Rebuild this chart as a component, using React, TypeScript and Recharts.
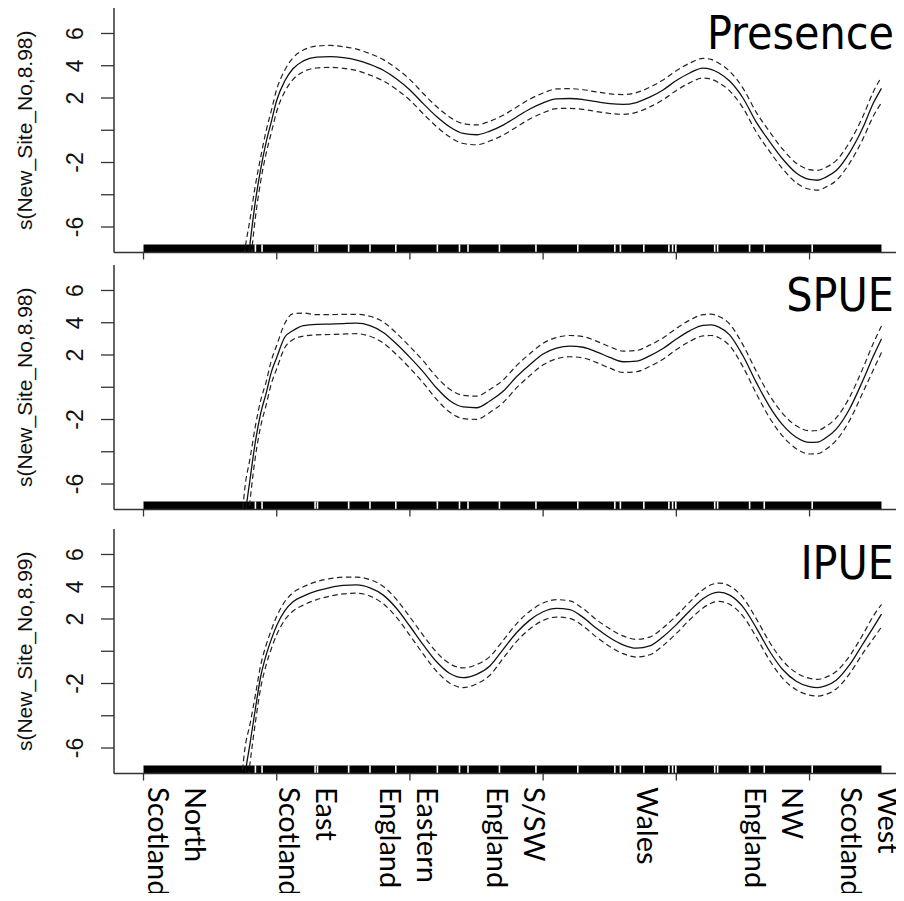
import React from 'react';
import { LineChart, Line, XAxis, YAxis, ReferenceArea, ReferenceLine, Customized } from 'recharts';

// Site numbers at which the smooths were read
const sites = [36, 38, 40, 42, 44, 46, 48, 50, 53, 56, 60, 65, 70, 75, 80, 85, 90, 95, 100, 105, 110, 115, 120, 125, 130, 135, 140, 145, 150, 155, 160, 165, 170, 175, 180, 185, 190, 195, 200, 205, 210, 213, 216, 220, 225, 230, 235, 240, 245, 250, 253, 256, 260, 265, 270, 274, 277];

// Presence
const presenceFit = [-13, -9.8, -7.0, -4.4, -2.4, -0.75, 0.55, 1.86, 3.05, 3.8, 4.3, 4.53, 4.56, 4.5, 4.35, 4.08, 3.72, 3.18, 2.5, 1.65, 0.85, 0.2, -0.2, -0.28, -0.05, 0.32, 0.82, 1.32, 1.7, 1.95, 1.97, 1.9, 1.77, 1.65, 1.6, 1.72, 2.05, 2.5, 3.08, 3.55, 3.85, 3.78, 3.55, 3.05, 2.0, 0.5, -0.7, -1.8, -2.65, -3.05, -3.1, -2.92, -2.5, -1.4, 0.15, 1.7, 2.6];
const presenceUpper = [-10.5, -7.5, -5.5, -3.4, -1.65, -0.05, 1.23, 2.54, 3.72, 4.47, 4.97, 5.22, 5.26, 5.18, 5.03, 4.75, 4.38, 3.83, 3.14, 2.28, 1.47, 0.81, 0.41, 0.33, 0.56, 0.93, 1.43, 1.93, 2.31, 2.56, 2.58, 2.51, 2.38, 2.26, 2.21, 2.33, 2.66, 3.11, 3.69, 4.16, 4.46, 4.39, 4.16, 3.66, 2.61, 1.11, -0.09, -1.19, -2.04, -2.44, -2.49, -2.31, -1.88, -0.75, 0.85, 2.4, 3.3];
const presenceLower = [-15.5, -12.1, -8.5, -5.4, -3.15, -1.45, -0.13, 1.18, 2.38, 3.13, 3.63, 3.86, 3.9, 3.84, 3.7, 3.42, 3.06, 2.53, 1.86, 1.02, 0.23, -0.42, -0.82, -0.9, -0.67, -0.3, 0.2, 0.7, 1.08, 1.34, 1.36, 1.29, 1.16, 1.04, 0.99, 1.11, 1.44, 1.89, 2.47, 2.94, 3.24, 3.17, 2.94, 2.44, 1.39, -0.11, -1.31, -2.41, -3.26, -3.66, -3.71, -3.53, -3.12, -2.05, -0.55, 0.9, 1.7];

// SPUE
const spueFit = [-13, -8.3, -5.7, -3.35, -1.6, -0.4, 0.95, 1.85, 3.1, 3.5, 3.82, 3.9, 3.92, 3.95, 3.97, 3.82, 3.4, 2.68, 1.85, 0.95, -0.05, -0.84, -1.22, -1.27, -0.85, -0.25, 0.65, 1.4, 2.06, 2.42, 2.55, 2.48, 2.2, 1.85, 1.58, 1.62, 1.95, 2.4, 2.99, 3.5, 3.84, 3.87, 3.73, 3.25, 1.95, 0.3, -1.2, -2.35, -3.1, -3.42, -3.4, -3.15, -2.6, -1.35, 0.42, 1.95, 3.0];
const spueUpper = [-10.3, -6.3, -4.4, -2.4, -0.8, 0.32, 1.67, 2.6, 3.95, 4.55, 4.6, 4.5, 4.5, 4.52, 4.52, 4.4, 4.05, 3.34, 2.52, 1.63, 0.64, -0.13, -0.5, -0.55, -0.14, 0.45, 1.34, 2.08, 2.73, 3.08, 3.21, 3.14, 2.86, 2.51, 2.24, 2.28, 2.61, 3.06, 3.65, 4.16, 4.5, 4.53, 4.39, 3.92, 2.63, 0.99, -0.5, -1.65, -2.39, -2.7, -2.68, -2.44, -1.9, -0.63, 1.17, 2.75, 3.8];
const spueLower = [-15.7, -10.3, -7.0, -4.3, -2.4, -1.12, 0.23, 1.15, 2.45, 2.95, 3.17, 3.25, 3.27, 3.3, 3.32, 3.16, 2.74, 2.02, 1.18, 0.27, -0.75, -1.55, -1.94, -1.99, -1.56, -0.95, -0.04, 0.72, 1.39, 1.76, 1.89, 1.82, 1.54, 1.19, 0.92, 0.96, 1.29, 1.74, 2.33, 2.84, 3.18, 3.21, 3.07, 2.58, 1.27, -0.39, -1.9, -3.05, -3.81, -4.14, -4.12, -3.86, -3.3, -2.07, -0.33, 1.1, 2.15];

// IPUE
const ipueFit = [-12, -7.9, -5.7, -3.55, -1.55, -0.25, 0.75, 1.6, 2.5, 3.05, 3.42, 3.74, 3.95, 4.08, 4.11, 3.93, 3.48, 2.65, 1.55, 0.4, -0.65, -1.38, -1.64, -1.43, -0.91, 0.12, 1.15, 1.93, 2.45, 2.66, 2.58, 2.1, 1.42, 0.84, 0.4, 0.19, 0.33, 0.9, 1.65, 2.5, 3.25, 3.55, 3.66, 3.48, 2.75, 1.45, 0.0, -1.15, -1.86, -2.2, -2.26, -2.15, -1.8, -0.85, 0.45, 1.5, 2.3];
const ipueUpper = [-9.6, -6.1, -4.5, -2.7, -0.85, 0.37, 1.33, 2.17, 3.07, 3.62, 4.0, 4.32, 4.5, 4.6, 4.6, 4.44, 4.02, 3.2, 2.12, 0.98, -0.06, -0.78, -1.03, -0.83, -0.33, 0.68, 1.7, 2.48, 2.99, 3.2, 3.12, 2.64, 1.96, 1.39, 0.95, 0.74, 0.88, 1.45, 2.2, 3.05, 3.82, 4.12, 4.23, 4.05, 3.32, 2.02, 0.56, -0.6, -1.33, -1.68, -1.74, -1.62, -1.26, -0.3, 1.03, 2.2, 2.9];
const ipueLower = [-14.4, -9.7, -6.9, -4.4, -2.25, -0.87, 0.17, 1.03, 1.93, 2.48, 2.86, 3.2, 3.42, 3.56, 3.6, 3.42, 2.94, 2.1, 0.98, -0.18, -1.24, -1.98, -2.25, -2.03, -1.49, -0.44, 0.6, 1.38, 1.91, 2.12, 2.04, 1.56, 0.88, 0.29, -0.15, -0.36, -0.22, 0.35, 1.1, 1.95, 2.68, 2.98, 3.09, 2.91, 2.18, 0.88, -0.56, -1.7, -2.39, -2.72, -2.78, -2.68, -2.34, -1.4, -0.13, 0.8, 1.5];

// Rug: observed site range and the site positions where no observation exists
const rugRange = [0, 277];
const rugGaps = [42, 44.5, 64.4, 65.3, 77, 85, 94.7, 110.3, 118.6, 121.8, 133.6, 147.3, 163, 176.9, 179, 187.8, 197.2, 198.6, 199.8, 214.4, 215.5, 227.5, 233, 251];

// Axes
const xTicks = [0, 50, 100, 150, 200, 250];
const yTicks = [-6, -4, -2, 0, 2, 4, 6];
const yTickLabels = [6, 4, 2, -2, -6];

// Region labels along the bottom axis
const regionNames = [['North', 'Scotland'], ['East', 'Scotland'], ['Eastern', 'England'], ['S/SW', 'England'], ['Wales'], ['NW', 'England'], ['West', 'Scotland']];
const regionAt = [15.6, 64.8, 102.7, 142.8, 185.2, 239.7, 275.7];

// Panels
const panelTitles = ['Presence', 'SPUE', 'IPUE'];
const panelYLabels = ['s(New_Site_No,8.98)', 's(New_Site_No,8.98)', 's(New_Site_No,8.99)'];

const X_DOMAIN: [number, number] = [-11.08, 288.08];
const Y_DOMAIN: [number, number] = [-7.58, 7.58];
const RUG_H = 0.5;
const PLOT_H = 244.5;
const TOP_PAD = 12;
const AXIS_COLOR = '#333';

const EmptyTick = () => <g />;

function YTick(props: any) {
  const { payload } = props;
  const y = payload.coordinate;
  if (!yTickLabels.includes(payload.value)) return <g />;
  return (
    <text x={83} y={y} transform={`rotate(-90, 83, ${y})`} textAnchor="middle"
      fontFamily="'Liberation Sans', Arial, sans-serif" fontSize={23} fill="#111">
      {String(payload.value)}
    </text>
  );
}

function RegionTick(props: any) {
  const { payload, x } = props;
  const idx = regionAt.indexOf(payload.value);
  const lines = regionNames[idx] || [];
  const y = 258 + TOP_PAD;
  return (
    <text x={x} y={y} transform={`rotate(90, ${x}, ${y})`} textAnchor="start"
      fontFamily="Lato, 'Open Sans', sans-serif" fontSize={29} fill="#000">
      {lines.map((l, i) => (
        <tspan key={i} x={x} dy={i === 0 ? 0 : 37}>{l}</tspan>
      ))}
    </text>
  );
}

interface PanelProps {
  top: number;
  fit: number[];
  upper: number[];
  lower: number[];
  title: string;
  titleY: number;
  yLabel: string;
  bottomLabels?: boolean;
}

function Panel({ top, fit, upper, lower, title, titleY, yLabel, bottomLabels }: PanelProps) {
  const rows = sites.map((s, i) => ({ s, fit: fit[i], upper: upper[i], lower: lower[i] }));
  const chartH = TOP_PAD + PLOT_H + 10 + (bottomLabels ? 130 : 0);
  const cy = TOP_PAD + PLOT_H / 2;
  return (
    <div style={{ position: 'absolute', left: 0, top: top - TOP_PAD }}>
      <LineChart width={920} height={chartH} data={rows} margin={{ top: TOP_PAD, right: 9, bottom: 0, left: 0 }}>
        <XAxis xAxisId={0} dataKey="s" type="number" domain={X_DOMAIN} allowDataOverflow
          ticks={xTicks} interval={0} tickSize={7} tick={EmptyTick} height={10}
          axisLine={{ stroke: AXIS_COLOR, strokeWidth: 1.5 }} tickLine={{ stroke: AXIS_COLOR, strokeWidth: 1.3 }} />
        {bottomLabels && (
          <XAxis xAxisId="regions" dataKey="s" type="number" domain={X_DOMAIN} allowDataOverflow
            ticks={regionAt} interval={0} tick={RegionTick} tickLine={false} axisLine={false} height={130} />
        )}
        <XAxis xAxisId="top" orientation="top" dataKey="s" type="number" domain={X_DOMAIN} allowDataOverflow
          height={0} tick={false} tickLine={false} axisLine={{ stroke: AXIS_COLOR, strokeWidth: 1.5 }} />
        <YAxis type="number" domain={Y_DOMAIN} allowDataOverflow ticks={yTicks} interval={0}
          tickSize={13} width={114} tick={YTick}
          axisLine={{ stroke: AXIS_COLOR, strokeWidth: 1.5 }} tickLine={{ stroke: AXIS_COLOR, strokeWidth: 1.3 }} />
        <ReferenceArea xAxisId={0} x1={rugRange[0]} x2={rugRange[1]} y1={Y_DOMAIN[0]} y2={Y_DOMAIN[0] + RUG_H}
          fill="#000" fillOpacity={1} stroke="none" />
        {rugGaps.map((g) => (
          <ReferenceLine key={g} xAxisId={0}
            segment={[{ x: g, y: Y_DOMAIN[0] }, { x: g, y: Y_DOMAIN[0] + RUG_H }]}
            stroke="#fff" strokeWidth={1.6} />
        ))}
        <Line xAxisId={0} dataKey="upper" type="monotone" stroke="#222" strokeWidth={1.2}
          strokeDasharray="5.5 3.5" dot={false} activeDot={false} isAnimationActive={false} />
        <Line xAxisId={0} dataKey="lower" type="monotone" stroke="#222" strokeWidth={1.2}
          strokeDasharray="5.5 3.5" dot={false} activeDot={false} isAnimationActive={false} />
        <Line xAxisId={0} dataKey="fit" type="monotone" stroke="#111" strokeWidth={1.3}
          dot={false} activeDot={false} isAnimationActive={false} />
        <Customized component={() => (
          <g>
            <text x={894} y={TOP_PAD + titleY} textAnchor="end"
              fontFamily="'DejaVu Sans Condensed', 'DejaVu Sans', sans-serif" fontSize={46} fill="#000">
              {title}
            </text>
            <text x={32} y={cy} transform={`rotate(-90, 32, ${cy})`} textAnchor="middle"
              fontFamily="'Liberation Sans', Arial, sans-serif" fontSize={21} fill="#111">
              {yLabel}
            </text>
          </g>
        )} />
      </LineChart>
    </div>
  );
}

export default function App() {
  return (
    <div style={{ position: 'relative', width: 904, height: 901, margin: -8, overflow: 'hidden', background: '#fff' }}>
      <Panel top={8} fit={presenceFit} upper={presenceUpper} lower={presenceLower}
        title={panelTitles[0]} titleY={40.5} yLabel={panelYLabels[0]} />
      <Panel top={264.5} fit={spueFit} upper={spueUpper} lower={spueLower}
        title={panelTitles[1]} titleY={45.5} yLabel={panelYLabels[1]} />
      <Panel top={528.5} fit={ipueFit} upper={ipueUpper} lower={ipueLower}
        title={panelTitles[2]} titleY={50} yLabel={panelYLabels[2]} bottomLabels />
    </div>
  );
}
